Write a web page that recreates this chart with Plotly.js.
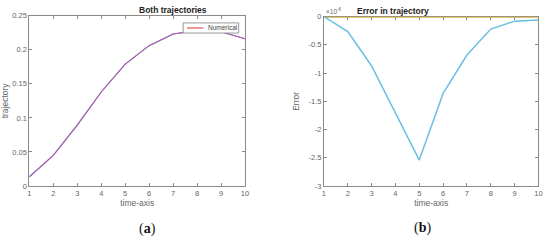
<!DOCTYPE html>
<html>
<head>
<meta charset="utf-8">
<script src="https://cdn.plot.ly/plotly-3.0.1.min.js"></script>
<style>
  body { margin: 0; background: #fff; }
  #plot { width: 550px; height: 241px; }
</style>
</head>
<body>
<div id="plot"></div>
<script>
// values
var timeAxis = [1, 2, 3, 4, 5, 6, 7, 8, 9, 10];
var numerical = [0.0137, 0.045, 0.0895, 0.138, 0.179, 0.206, 0.223, 0.228, 0.2265, 0.216];
var exact = [0.0137, 0.045, 0.0895, 0.138, 0.179, 0.206, 0.223, 0.228, 0.2265, 0.216];
var errorVals = [0, -0.266e-6, -0.874e-6, -1.70e-6, -2.54e-6, -1.36e-6, -0.68e-6, -0.22e-6, -0.08e-6, -0.06e-6];
var errorZero = [0, 0, 0, 0, 0, 0, 0, 0, 0, 0];
var errTickVals = [-3e-6, -2.5e-6, -2e-6, -1.5e-6, -1e-6, -0.5e-6, 0];
var errTickText = ['-3', '-2.5', '-2', '-1.5', '-1', '-0.5', '0'];
var legendName = 'Numerical';

var axisGrey = '#8a8a8a';
var fam = 'Liberation Sans, Arial, sans-serif';
var tickFont = {family: fam, size: 7.5, color: '#666'};
var labFont = {family: fam, size: 8.5, color: '#666'};

var data = [
  {x: timeAxis, y: numerical, type: 'scatter', mode: 'lines', name: legendName,
   line: {color: '#e03030', width: 1.1}, xaxis: 'x', yaxis: 'y'},
  {x: timeAxis, y: exact, type: 'scatter', mode: 'lines', name: 'Exact',
   line: {color: '#7a7af0', width: 1.1}, opacity: 0.8, xaxis: 'x', yaxis: 'y'},
  {x: timeAxis, y: errorZero, type: 'scatter', mode: 'lines',
   line: {color: '#d9b14a', width: 2.4}, xaxis: 'x2', yaxis: 'y2'},
  {x: timeAxis, y: errorVals, type: 'scatter', mode: 'lines',
   line: {color: '#6bbfe0', width: 1.5}, xaxis: 'x2', yaxis: 'y2'}
];

function xAx(domain, anchor) {
  return {
    domain: domain, anchor: anchor, range: [1, 10], dtick: 1,
    showline: true, mirror: 'allticks', linecolor: axisGrey, linewidth: 1,
    ticks: 'inside', ticklen: 3, tickcolor: axisGrey, showgrid: false, zeroline: false,
    tickfont: tickFont, layer: 'below traces',
    title: {text: 'time-axis', font: labFont, standoff: 2}
  };
}

function yAx(domain, anchor, title, standoff) {
  return {
    domain: domain, anchor: anchor,
    showline: true, mirror: 'allticks', linecolor: axisGrey, linewidth: 1,
    ticks: 'inside', ticklen: 3, tickcolor: axisGrey, showgrid: false, zeroline: false,
    tickfont: tickFont, layer: 'below traces',
    title: {text: title, font: labFont, standoff: standoff}
  };
}

var yaxis = yAx([0.228, 0.935], 'x', 'trajectory', 4);
yaxis.range = [0, 0.25];
yaxis.dtick = 0.05;
var yaxis2 = yAx([0.228, 0.931], 'x2', 'Error', 7);
yaxis2.range = [-3e-6, 0];
yaxis2.tickvals = errTickVals;
yaxis2.ticktext = errTickText;

var layout = {
  width: 550, height: 241,
  margin: {l: 0, r: 0, t: 0, b: 0},
  paper_bgcolor: '#fff', plot_bgcolor: '#fff',
  showlegend: false,
  xaxis: xAx([0.0533, 0.4455], 'y'),
  yaxis: yaxis,
  xaxis2: xAx([0.589, 0.979], 'y2'),
  yaxis2: yaxis2,
  shapes: [
    // legend box for the left panel
    {type: 'rect', xref: 'paper', yref: 'paper', x0: 0.333, x1: 0.434, y0: 0.863, y1: 0.905,
     fillcolor: '#fff', line: {color: '#999', width: 1}},
    {type: 'line', xref: 'paper', yref: 'paper', x0: 0.340, x1: 0.370, y0: 0.884, y1: 0.884,
     line: {color: '#e03030', width: 1}}
  ],
  annotations: [
    {text: legendName, xref: 'paper', yref: 'paper', x: 0.374, y: 0.884, xanchor: 'left', yanchor: 'middle',
     showarrow: false, font: {family: fam, size: 6.5, color: '#444'}},
    {text: '<b>Both trajectories</b>', xref: 'paper', yref: 'paper', x: 0.2494, y: 0.958, yanchor: 'middle',
     showarrow: false, font: {family: fam, size: 8.5, color: '#222'}},
    {text: '<b>Error in trajectory</b>', xref: 'paper', yref: 'paper', x: 0.784, y: 0.954, yanchor: 'middle',
     showarrow: false, font: {family: fam, size: 8.5, color: '#222'}},
    {text: '\u00d710<sup>-6</sup>', xref: 'paper', yref: 'paper', x: 0.589, y: 0.955, xanchor: 'left', yanchor: 'middle',
     showarrow: false, font: {family: fam, size: 6.5, color: '#666'}},
    {text: '(<b>a</b>)', xref: 'paper', yref: 'paper', x: 0.2494, y: 0.05, yanchor: 'middle',
     showarrow: false, font: {family: 'Liberation Serif, DejaVu Serif, serif', size: 14, color: '#111'}},
    {text: '(<b>b</b>)', xref: 'paper', yref: 'paper', x: 0.787, y: 0.054, yanchor: 'middle',
     showarrow: false, font: {family: 'Liberation Serif, DejaVu Serif, serif', size: 14, color: '#111'}}
  ]
};

Plotly.newPlot('plot', data, layout, {displayModeBar: false, responsive: false});
</script>
</body>
</html>
